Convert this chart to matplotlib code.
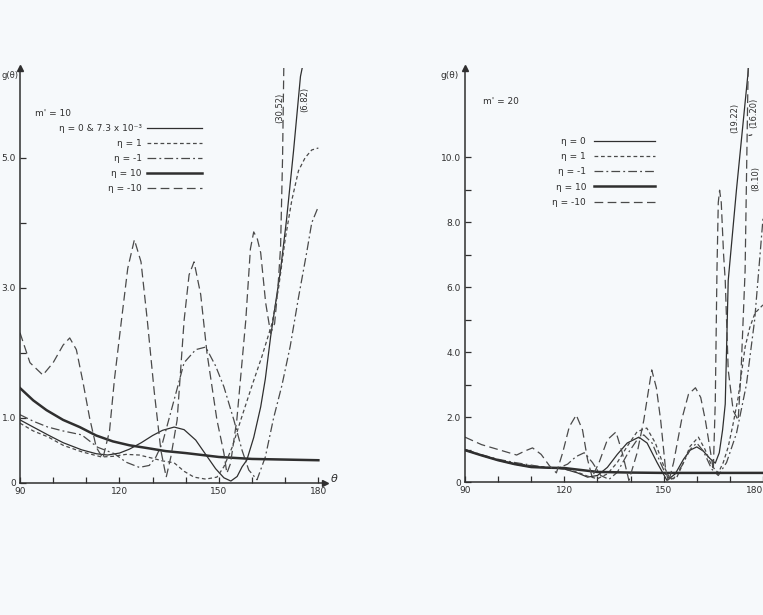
import numpy as np
import matplotlib.pyplot as plt

plt.rcParams['font.family'] = 'DejaVu Sans'

# ---- m' = 10 : scattering angle (deg) vs g(theta) ----
th10_e0 = [90, 94, 98.4, 103, 108.6, 113, 116.4, 120, 123, 126.6, 130, 133, 136.5, 139.5, 143, 146,
           149, 151.5, 153.6, 155.5, 157, 158.4, 160.5, 162.6, 164, 165.6, 168.6, 170.4, 172.5,
           174.6, 176, 178, 180]
g10_e0 = [0.97, 0.86, 0.74, 0.62, 0.51, 0.45, 0.43, 0.46, 0.52, 0.62, 0.73, 0.81, 0.86, 0.82, 0.66, 0.44,
          0.22, 0.08, 0.03, 0.10, 0.25, 0.35, 0.70, 1.17, 1.60, 2.25, 3.28, 4.05, 5.10,
          6.25, 6.60, 6.78, 6.82]

th10_e1 = [90, 94, 98.4, 103, 108.6, 114.6, 118, 122, 126, 130, 133, 136.5, 139.5, 142.5, 146, 149.4,
           151.5, 154, 156.6, 160, 163, 166, 168, 170, 172, 174, 176, 178, 180]
g10_e1 = [0.92, 0.80, 0.71, 0.58, 0.48, 0.40, 0.41, 0.44, 0.43, 0.38, 0.34, 0.31, 0.18, 0.09, 0.06, 0.09,
          0.25, 0.55, 0.97, 1.50, 1.95, 2.45, 3.00, 3.75, 4.35, 4.80, 5.00, 5.12, 5.15]

th10_em1 = [90, 94, 98.4, 103, 108.6, 113.4, 118.5, 122, 126, 129, 131, 133, 136.5, 139.5, 143, 146,
            149, 151.5, 154.5, 157, 159, 161.5, 164, 166.5, 169, 171.5, 174, 176.5, 178, 180]
g10_em1 = [1.05, 0.95, 0.86, 0.80, 0.74, 0.55, 0.45, 0.32, 0.24, 0.27, 0.40, 0.62, 1.28, 1.85, 2.05, 2.09,
           1.80, 1.48, 0.97, 0.50, 0.20, 0.05, 0.40, 1.00, 1.50, 2.10, 2.85, 3.55, 4.00, 4.25]

th10_e10 = [90, 94, 98, 103, 108, 113, 118, 123, 128, 134, 140, 150, 160, 170, 180]
g10_e10 = [1.46, 1.27, 1.12, 0.97, 0.86, 0.73, 0.64, 0.58, 0.54, 0.49, 0.46, 0.40, 0.37, 0.36, 0.35]

th10_em10 = [90, 93, 96.9, 100, 103, 105, 107, 109, 111, 113, 115, 117, 118.5, 120.6, 122.5, 124.5,
             126.5, 128.4, 130.5, 132.5, 134.1, 135.5, 137.4, 139.5, 141, 142.5, 144.5, 146.4, 149.4,
             151.5, 152.4, 153.5, 155.4, 158.1, 159.5, 160.5, 161.6, 162.6, 164.1, 165.6, 166.8,
             167.8, 168.6, 169.2, 169.6, 172, 180]
g10_em10 = [2.31, 1.85, 1.66, 1.85, 2.12, 2.23, 2.05, 1.55, 1.00, 0.55, 0.38, 0.80, 1.60, 2.50, 3.30, 3.74,
            3.40, 2.50, 1.40, 0.50, 0.09, 0.40, 0.97, 2.50, 3.20, 3.40, 2.90, 2.00, 0.97,
            0.46, 0.15, 0.30, 0.97, 2.50, 3.60, 3.86, 3.75, 3.54, 2.77, 2.30, 2.45,
            3.00, 3.63, 5.00, 6.50, 12.0, 30.52]

# ---- m' = 20 ----
th20_e0 = [90, 95, 100, 105, 110, 115, 120, 124, 127, 130, 133, 136, 139, 142.5, 145, 148, 151, 153.5,
           156, 158, 160, 162, 164, 165.6, 166.8, 167.8, 168.6, 169.5, 172, 175.5, 177.5, 180]
g20_e0 = [0.98, 0.82, 0.67, 0.55, 0.46, 0.44, 0.40, 0.28, 0.15, 0.20, 0.45, 0.85, 1.20, 1.38, 1.20, 0.60,
          0.05, 0.25, 0.70, 0.98, 1.08, 0.95, 0.72, 0.58, 0.90, 1.60, 2.40, 6.20, 9.00, 12.6, 16.5, 19.22]

th20_e1 = [90, 95, 100, 105, 110, 115, 120, 124, 127, 130, 133, 136, 139, 142, 144.9, 147.5, 150, 152,
           154, 156, 158, 160.5, 162.5, 164.5, 166.5, 168, 169.5, 171, 172.5, 174.6, 176, 177.6, 180]
g20_e1 = [1.00, 0.82, 0.68, 0.58, 0.50, 0.45, 0.40, 0.30, 0.18, 0.10, 0.25, 0.60, 1.10, 1.55, 1.66, 1.20,
          0.50, 0.08, 0.15, 0.60, 1.10, 1.38, 1.00, 0.50, 0.28, 0.60, 1.08, 1.80, 2.60, 4.15, 4.75,
          5.20, 5.45]

th20_em1 = [90, 95, 100, 105, 110, 114, 118, 121, 123.5, 126, 128.5, 131, 133.5, 136, 139, 142, 144,
            146.5, 149, 151, 153, 155.5, 158, 160, 162, 164.5, 166.5, 169, 172, 175, 177.5, 180]
g20_em1 = [1.00, 0.84, 0.70, 0.60, 0.52, 0.45, 0.42, 0.55, 0.78, 0.90, 0.60, 0.20, 0.08, 0.30, 0.85, 1.30,
           1.45, 1.20, 0.60, 0.15, 0.10, 0.50, 1.00, 1.20, 0.95, 0.40, 0.20, 0.60, 1.50, 3.00, 5.00, 8.10]

th20_e10 = [90, 95, 100, 105, 110, 115, 120, 125, 130, 140, 150, 165, 180]
g20_e10 = [0.98, 0.82, 0.67, 0.55, 0.46, 0.44, 0.43, 0.37, 0.31, 0.29, 0.28, 0.28, 0.28]

th20_em10 = [90, 95, 100, 105.6, 108, 110.4, 113, 115.5, 117.6, 119.5, 121.5, 123.6, 125.5, 127, 128.4,
             130.5, 133, 135.6, 137.5, 139.5, 142, 144, 146.4, 147.8, 149.1, 150.6, 151.5, 153, 155.4,
             157.5, 159.6, 161.2, 162.6, 164.4, 165, 165.6, 166.1, 166.5, 166.9, 167.4, 168.1, 168.6,
             169.5, 171, 172.5, 173.4, 174.6, 175.5, 177, 180]
g20_em10 = [1.38, 1.15, 1.00, 0.83, 0.95, 1.05, 0.85, 0.50, 0.28, 0.90, 1.70, 2.06, 1.60, 0.70, 0.15,
            0.60, 1.30, 1.54, 0.90, 0.05, 0.90, 1.90, 3.45, 2.90, 1.90, 0.37, 0.00, 0.60, 1.90,
            2.70, 2.90, 2.60, 1.90, 0.77, 0.37, 2.50, 6.50, 8.60, 8.98, 8.60, 7.00, 6.20,
            3.45, 2.20, 1.90, 3.45, 6.50, 12.6, 14.5, 16.2]

x_ticks = [90, 100, 110, 120, 130, 140, 150, 160, 170, 180]
x_ticklabels = ['90', '', '', '120', '', '', '150', '', '', '180']
y10_ticks = [0, 1, 2, 3, 4, 5]
y10_ticklabels = ['0', '1.0', '', '3.0', '', '5.0']
y20_ticks = [0, 1, 2, 3, 4, 5, 6, 7, 8, 9, 10]
y20_ticklabels = ['0', '', '2.0', '', '4.0', '', '6.0', '', '8.0', '', '10.0']

labels10 = ['η = 0 & 7.3 x 10⁻³', 'η = 1', 'η = -1', 'η = 10', 'η = -10']
labels20 = ['η = 0', 'η = 1', 'η = -1', 'η = 10', 'η = -10']

ink = '#2f2f2f'
dash_ink = '#4a4a4a'
bg = '#f6f9fb'

styles = [
    dict(color=ink, lw=0.9, ls='-'),
    dict(color=dash_ink, lw=0.9, ls=(0, (3, 2.2))),
    dict(color=dash_ink, lw=0.9, ls=(0, (7, 2.5, 1.5, 2.5))),
    dict(color=ink, lw=1.8, ls='-'),
    dict(color=dash_ink, lw=0.9, ls=(0, (7, 3.5))),
]


def style_axes(ax, ytop, yt, ytl):
    ax.set_facecolor(bg)
    ax.set_xlim(90, 182)
    ax.set_ylim(0, ytop)
    for s in ['top', 'right']:
        ax.spines[s].set_visible(False)
    for s in ['left', 'bottom']:
        ax.spines[s].set_color(ink)
        ax.spines[s].set_linewidth(1.1)
    ax.set_xticks(x_ticks)
    ax.set_xticklabels(x_ticklabels)
    ax.set_yticks(yt)
    ax.set_yticklabels(ytl)
    ax.tick_params(direction='in', length=4, width=0.9, colors=ink, labelsize=6.5, pad=3)
    # arrow heads on the axes
    ax.plot(0, 1, marker='^', ms=5, color=ink, transform=ax.transAxes, clip_on=False)
    ax.plot(1, 0, marker='>', ms=4, color=ink, transform=ax.transAxes, clip_on=False)


fig = plt.figure(figsize=(7.63, 6.15), dpi=100, facecolor=bg)
ax1 = fig.add_axes([20 / 763, 132 / 615, 305 / 763, 415 / 615])
ax2 = fig.add_axes([465 / 763, 133 / 615, 304.6 / 763, 414 / 615])

style_axes(ax1, 6.38, y10_ticks, y10_ticklabels)
style_axes(ax2, 12.74, y20_ticks, y20_ticklabels)
# last angle label sits against the right edge
ax2.get_xticklabels()[-1].set_ha('right')

# m' = 10
series10 = [(th10_e0, g10_e0), (th10_e1, g10_e1), (th10_em1, g10_em1),
            (th10_e10, g10_e10), (th10_em10, g10_em10)]
lines10 = []
for (t, g), st, lab in zip(series10, styles, labels10):
    ln, = ax1.plot(t, g, label=lab, **st)
    lines10.append(ln)

ax1.legend(handles=lines10, loc='upper right', bbox_to_anchor=(0.613, 0.875), markerfirst=False,
           frameon=False, fontsize=6.5, handlelength=6.1, labelspacing=0.65, borderpad=0,
           handletextpad=0.6, labelcolor=ink)
ax1.text(0.05, 0.89, "m' = 10", transform=ax1.transAxes, fontsize=6.5, color=ink, va='center')
fig.text(0.002, 1 - 75 / 615, 'g(θ)', fontsize=6, color=ink, ha='left', va='center')
ax1.text(1.02, 0.01, 'θ', transform=ax1.transAxes, fontsize=8, style='italic', color=ink,
         ha='left', va='center')
ax1.text(168.3, 5.77, '(30.52)', rotation=90, fontsize=6, color=ink, ha='center', va='center')
ax1.text(175.8, 5.9, '(6.82)', rotation=90, fontsize=6, color=ink, ha='center', va='center')

# m' = 20
series20 = [(th20_e0, g20_e0), (th20_e1, g20_e1), (th20_em1, g20_em1),
            (th20_e10, g20_e10), (th20_em10, g20_em10)]
lines20 = []
for (t, g), st, lab in zip(series20, styles, labels20):
    ln, = ax2.plot(t, g, label=lab, **st)
    lines20.append(ln)

ax2.legend(handles=lines20, loc='upper right', bbox_to_anchor=(0.638, 0.845), markerfirst=False,
           frameon=False, fontsize=6.5, handlelength=6.7, labelspacing=0.7, borderpad=0,
           handletextpad=0.9, labelcolor=ink)
ax2.text(0.059, 0.918, "m' = 20", transform=ax2.transAxes, fontsize=6.5, color=ink, va='center')
ax2.text(-0.02, 0.983, 'g(θ)', transform=ax2.transAxes, fontsize=6.5, color=ink,
         ha='right', va='center')
ax2.text(171.6, 11.2, '(19.22)', rotation=90, fontsize=6, color=ink, ha='center', va='center')
ax2.text(177.3, 11.35, '(16.20)', rotation=90, fontsize=6, color=ink, ha='center', va='center')
ax2.text(177.9, 9.33, '(8.10)', rotation=90, fontsize=6, color=ink, ha='center', va='center')
ax2.annotate('', xy=(175.0, 10.7), xytext=(177.2, 10.75),
             arrowprops=dict(arrowstyle='-', connectionstyle='arc3,rad=-0.5', lw=0.8, color=ink))

plt.savefig('out.png', dpi=100, facecolor=bg)
